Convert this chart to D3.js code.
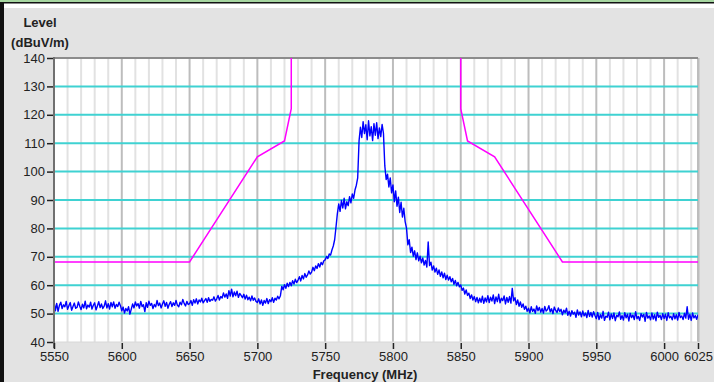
<!DOCTYPE html>
<html>
<head>
<meta charset="utf-8">
<script src="https://cdn.jsdelivr.net/npm/d3@7"></script>
<style>
  html, body { margin: 0; padding: 0; background: #e3e3e3; }
  svg { display: block; }
</style>
</head>
<body>
<svg id="chart"></svg>
<script>
// frequency axis ticks (MHz) and level ticks (dBuV/m)
const freqTicks = [5550, 5600, 5650, 5700, 5750, 5800, 5850, 5900, 5950, 6000, 6025];
const levelTicks = [40, 50, 60, 70, 80, 90, 100, 110, 120, 130, 140];

// emission mask (magenta), lower and upper band edge
const maskLowFreq = [5550, 5650, 5700, 5720, 5725, 5725];
const maskLowLevel = [68.2, 68.2, 105.2, 110.8, 122.2, 145];
const maskHighFreq = [5850, 5850, 5855, 5875, 5925, 6025];
const maskHighLevel = [145, 122.2, 110.8, 105.2, 68.2, 68.2];

// measured trace, one reading per MHz from 5550 to 6025 MHz
const traceStart = 5550;
const traceStep = 1;
const traceLevel = [
  // 5550
  54.2, 51.0, 53.6, 50.8, 52.9, 54.0, 51.8, 53.1, 52.4, 54.3,
  51.5, 52.8, 53.9, 51.2, 52.5, 53.7, 51.9, 52.2, 54.1, 52.6,
  51.4, 53.3, 52.0, 54.4, 51.7, 53.0, 52.3, 54.0, 51.6, 52.9,
  53.8, 51.3, 52.7, 54.2, 52.1, 53.4, 51.8, 52.6, 54.5, 52.0,
  53.5, 51.6, 53.9, 52.4, 54.1, 51.9, 53.2, 52.5, 54.0, 52.8,
  // 5600
  51.0, 52.3, 50.2, 51.8, 50.9, 52.4, 49.8, 51.6, 53.4, 52.0,
  54.1, 52.7, 53.5, 51.9, 54.3, 52.5, 53.1, 50.7, 53.8, 52.2,
  54.4, 52.9, 53.6, 51.8, 53.2, 52.4, 54.6, 52.8, 53.7, 52.0,
  53.4, 54.5, 52.6, 53.9, 51.9, 53.3, 54.2, 52.5, 53.8, 52.9,
  54.6, 53.0, 52.4, 54.0, 53.1, 55.0, 53.6, 52.7, 54.3, 53.2,
  // 5650
  53.5, 54.6, 52.9, 54.9, 53.7, 55.2, 53.4, 54.8, 54.1, 55.4,
  53.8, 54.6, 55.3, 54.0, 55.6, 54.3, 55.0, 54.7, 55.9, 54.4,
  55.2, 56.4, 54.8, 56.0, 55.5, 57.3, 55.8, 56.9, 55.4, 58.1,
  56.2, 58.6, 55.9, 57.6, 56.3, 57.9, 55.7, 57.1, 56.4, 55.6,
  56.8, 55.1, 56.5, 54.9, 55.8, 54.5, 56.2, 54.7, 55.5, 54.3,
  // 5700
  53.9, 55.2, 53.4, 54.8, 52.9, 54.6, 53.7, 55.3, 53.5, 54.9,
  54.2, 55.6, 54.0, 55.4, 54.8, 56.1, 55.2, 56.3, 59.6, 58.4,
  60.2, 58.9, 60.7, 59.5, 61.0, 59.8, 61.6, 60.4, 62.1, 60.9,
  61.8, 63.0, 61.5, 63.4, 62.2, 64.1, 62.8, 63.6, 65.0, 63.9,
  64.6, 66.3, 65.1, 66.8, 65.9, 67.6, 66.4, 68.0, 67.2, 68.6,
  // 5750
  68.9, 70.1, 69.4, 71.0, 70.6, 72.4, 73.8, 76.0, 80.5, 85.2,
  88.6, 86.0, 89.8, 87.2, 90.6, 86.9, 89.4, 88.0, 91.2, 89.0,
  92.1, 90.6, 93.5, 95.2, 97.8, 110.8, 115.6, 112.0, 117.6, 113.4,
  116.5, 111.2, 117.9, 112.6, 115.8, 110.9, 116.9, 112.8, 117.2, 111.6,
  115.4, 112.3, 116.6, 113.5, 102.0, 97.2, 99.1, 94.6, 97.8, 92.5,
  // 5800
  95.3, 89.4, 93.2, 87.8, 91.0, 85.6, 89.2, 84.0, 87.1, 82.4,
  80.1, 74.2, 76.0, 71.5, 73.4, 70.2, 72.1, 69.0, 71.4, 68.6,
  70.2, 67.9, 69.6, 67.1, 68.7, 66.4, 75.2, 66.9, 68.1, 65.3,
  66.8, 64.6, 66.0, 63.8, 65.4, 63.1, 64.7, 62.6, 64.2, 62.0,
  63.5, 61.8, 63.0, 61.2, 62.4, 60.3, 61.7, 59.8, 61.0, 59.4,
  // 5850
  60.1, 58.2, 59.0, 56.9, 58.3, 56.4, 57.2, 55.3, 56.6, 54.8,
  56.0, 54.2, 55.7, 53.8, 55.4, 54.0, 56.1, 53.6, 55.5, 54.1,
  56.3, 53.9, 55.8, 54.4, 56.6, 53.5, 55.9, 54.2, 56.8, 53.8,
  55.4, 54.6, 56.2, 53.4, 55.7, 54.0, 56.0, 53.7, 58.9, 54.5,
  55.6, 53.2, 54.8, 52.6, 54.1, 52.2, 53.4, 51.5, 52.6, 50.8,
  // 5900
  51.9, 50.3, 52.4, 50.8, 51.6, 50.1, 52.7, 51.0, 52.2, 50.5,
  51.8, 50.2, 52.5, 50.9, 51.4, 52.8, 50.6, 51.7, 50.0, 52.3,
  51.1, 50.4, 52.0, 50.7, 51.5, 49.6, 51.2, 50.3, 51.9, 49.4,
  50.8, 49.1, 51.0, 49.8, 50.5, 48.7, 51.3, 49.5, 50.6, 48.9,
  50.9, 49.2, 50.2, 48.6, 51.1, 49.0, 50.4, 48.8, 50.7, 49.3,
  // 5950
  48.2, 50.4, 47.9, 49.6, 48.4, 50.8, 47.6, 49.1, 48.7, 50.5,
  47.8, 49.9, 48.3, 50.2, 47.5, 49.4, 48.9, 50.6, 48.0, 49.3,
  47.7, 50.3, 48.5, 49.8, 47.4, 50.1, 48.6, 49.5, 47.9, 50.7,
  48.2, 49.0, 47.6, 50.0, 48.8, 49.7, 47.3, 50.4, 48.4, 49.2,
  47.8, 50.2, 48.1, 49.6, 47.5, 50.5, 48.7, 49.4, 47.9, 50.0,
  // 6000
  48.3, 49.8, 47.6, 50.3, 48.5, 49.1, 47.8, 50.0, 48.2, 49.6,
  47.7, 50.4, 48.6, 49.2, 47.9, 50.1, 48.4, 52.4, 48.0, 49.7,
  47.6, 50.2, 48.5, 49.3, 48.0, 49.6
];

const width = 714, height = 382;
const plotLeft = 54, plotRight = 698, plotTop = 58, plotBottom = 342;

const svg = d3.select('#chart')
  .attr('width', width)
  .attr('height', height)
  .style('font-family', '"Liberation Sans", Arial, sans-serif');

// window frame bits
svg.append('rect').attr('x', 0).attr('y', 0).attr('width', width).attr('height', height).attr('fill', '#e3e3e3');
svg.append('rect').attr('x', 0).attr('y', 0).attr('width', width).attr('height', 8).attr('fill', '#ffffff');
svg.append('rect').attr('x', 0).attr('y', 0).attr('width', width).attr('height', 2).attr('fill', '#a6d6a0');
svg.append('rect').attr('x', 0).attr('y', 2).attr('width', width).attr('height', 1.5).attr('fill', '#111');
svg.append('rect').attr('x', 0).attr('y', 2).attr('width', 4).attr('height', height).attr('fill', '#111');

const x = d3.scaleLinear().domain([5550, 6025]).range([plotLeft, plotRight]);
const y = d3.scaleLinear().domain([40, 140]).range([plotBottom, plotTop]);

// plot background with a soft shadow on the right
svg.append('rect').attr('x', plotLeft).attr('y', plotTop).attr('width', plotRight - plotLeft + 2).attr('height', plotBottom - plotTop)
  .attr('fill', '#cfcfcf');
svg.append('rect').attr('x', plotLeft).attr('y', plotTop).attr('width', plotRight - plotLeft).attr('height', plotBottom - plotTop)
  .attr('fill', '#ffffff');

// vertical grid: minor every 10 MHz, major on the labelled ticks
const minorFreqs = d3.range(5560, 6025, 10).filter(f => !freqTicks.includes(f));
svg.append('g').selectAll('line').data(minorFreqs).join('line')
  .attr('x1', d => x(d)).attr('x2', d => x(d))
  .attr('y1', plotTop).attr('y2', plotBottom)
  .attr('stroke', '#e2e2e2').attr('stroke-width', 2);
svg.append('g').selectAll('line').data(freqTicks.slice(1)).join('line')
  .attr('x1', d => x(d)).attr('x2', d => x(d))
  .attr('y1', plotTop).attr('y2', plotBottom)
  .attr('stroke', '#bdbdbd').attr('stroke-width', 2);

// horizontal grid (cyan)
svg.append('g').selectAll('line').data(levelTicks.slice(1, -1)).join('line')
  .attr('x1', plotLeft).attr('x2', plotRight)
  .attr('y1', d => y(d)).attr('y2', d => y(d))
  .attr('stroke', '#3fd2d2').attr('stroke-width', 2);

// frame lines
svg.append('line').attr('x1', plotLeft).attr('x2', plotRight).attr('y1', plotTop).attr('y2', plotTop)
  .attr('stroke', '#8c8c8c').attr('stroke-width', 2);
svg.append('line').attr('x1', plotLeft).attr('x2', plotRight).attr('y1', plotBottom).attr('y2', plotBottom)
  .attr('stroke', '#d8d8d8').attr('stroke-width', 1);

svg.append('clipPath').attr('id', 'plotclip')
  .append('rect').attr('x', plotLeft).attr('y', plotTop).attr('width', plotRight - plotLeft).attr('height', plotBottom - plotTop);

const plot = svg.append('g').attr('clip-path', 'url(#plotclip)');

const line = d3.line().x(d => x(d[0])).y(d => y(d[1]));

// trace
const traceData = traceLevel.map((v, i) => [traceStart + i * traceStep, v]);
plot.append('path')
  .datum(traceData)
  .attr('d', line)
  .attr('fill', 'none')
  .attr('stroke', '#0000ff')
  .attr('stroke-width', 1.4)
  .attr('stroke-linejoin', 'round');

// mask limits
[[maskLowFreq, maskLowLevel], [maskHighFreq, maskHighLevel]].forEach(([fs, ls]) => {
  plot.append('path')
    .datum(fs.map((f, i) => [f, ls[i]]))
    .attr('d', line)
    .attr('fill', 'none')
    .attr('stroke', '#ff00ff')
    .attr('stroke-width', 1.5);
});

// left axis line
svg.append('line').attr('x1', plotLeft).attr('x2', plotLeft).attr('y1', plotTop - 1).attr('y2', plotBottom + 6)
  .attr('stroke', '#707070').attr('stroke-width', 2);

// y axis
const yAxis = svg.append('g')
  .attr('transform', `translate(${plotLeft - 1},0)`)
  .call(d3.axisLeft(y).tickValues(levelTicks).tickSize(6).tickPadding(2));
yAxis.select('.domain').remove();
yAxis.selectAll('.tick line').attr('stroke', '#222').attr('stroke-width', 1.5);
yAxis.selectAll('.tick text')
  .attr('fill', '#222')
  .style('font-size', '13px')
  .style('font-family', '"Liberation Sans", Arial, sans-serif');

// x axis
const xAxis = svg.append('g')
  .attr('transform', `translate(0,${plotBottom + 1})`)
  .call(d3.axisBottom(x).tickValues(freqTicks).tickFormat(d3.format('d')).tickSize(6).tickPadding(3));
xAxis.select('.domain').remove();
xAxis.selectAll('.tick line').attr('stroke', '#222').attr('stroke-width', 1.5);
xAxis.selectAll('.tick text')
  .attr('fill', '#222')
  .style('font-size', '13px')
  .style('font-family', '"Liberation Sans", Arial, sans-serif');

// axis titles
svg.append('text').attr('x', 40).attr('y', 27).attr('text-anchor', 'middle')
  .style('font-size', '13px').style('font-weight', 'bold').attr('fill', '#222')
  .text('Level');
svg.append('text').attr('x', 40).attr('y', 47).attr('text-anchor', 'middle')
  .style('font-size', '13px').style('font-weight', 'bold').attr('fill', '#222')
  .text('(dBuV/m)');
svg.append('text').attr('x', 365).attr('y', 379).attr('text-anchor', 'middle')
  .style('font-size', '13px').style('font-weight', 'bold').attr('fill', '#222')
  .text('Frequency (MHz)');
</script>
</body>
</html>
